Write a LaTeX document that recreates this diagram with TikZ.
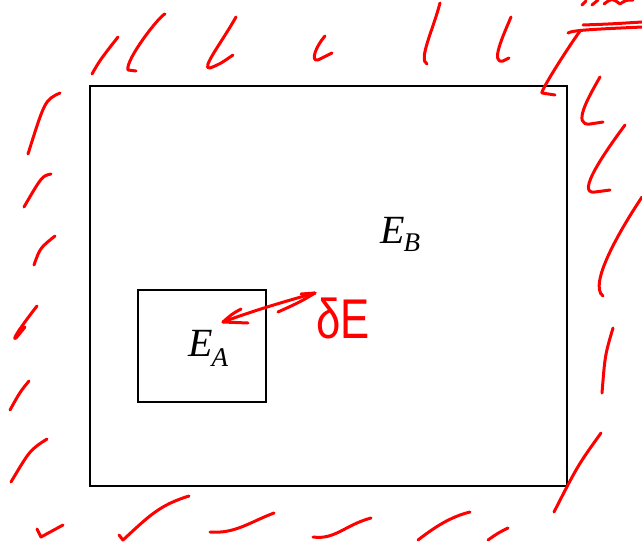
\documentclass[tikz,border=0pt]{standalone}
\usepackage{fontspec}
\setmainfont{Liberation Serif}
\newfontfamily\handfont{Liberation Sans}
\begin{document}
\begin{tikzpicture}[x=1pt,y=-1pt,
 ink/.style={red, line width=3pt, line cap=round, line join=round},
 bigbox/.style={draw=black, line width=2.8pt, inner sep=0pt},
 smallbox/.style={draw=black, line width=1.7pt, inner sep=0pt},
 elabel/.style={anchor=base west, inner sep=0pt}]
\useasboundingbox (0,0) rectangle (642,541);
\fill[white] (0,0) rectangle (642,541);
% boxes
\node[bigbox, minimum width=477pt, minimum height=400pt] (outer) at (328.5,286) {};
\node[smallbox, minimum width=128pt, minimum height=112pt] (inner) at (202,346) {};
% labels
\node[elabel] (EB) at (380,243) {\fontsize{40}{40}\selectfont\itshape E\kern-1pt\raisebox{-8pt}{\fontsize{27}{27}\selectfont B}};
\node[elabel] (EA) at (188,356) {\fontsize{40}{40}\selectfont\itshape E\kern-1pt\raisebox{-10pt}{\fontsize{27}{27}\selectfont A}};
\node[red, anchor=base west, inner sep=0pt] (dE) at (316,338) {\scalebox{0.78}[1]{\handfont\fontsize{56}{56}\selectfont δE}};
% hand-drawn arrow
\coordinate (la) at (223,322);
\coordinate (ra) at (315,293);
\draw[ink] (241,309) .. controls (232,314) .. (la) -- (248,323);
\draw[ink] (la) .. controls (255,310) and (290,300) .. (ra);
\draw[ink] (ra) -- (301,294);
\draw[ink] (ra) .. controls (300,302) .. (278,312);
% top strokes
\draw[ink] (92,74) .. controls (100,60) .. (118,37);
\draw[ink] (165,14) .. controls (160,15) and (125,60) .. (128,70) -- (136,71);
\draw[ink] (236,17) .. controls (222,42) and (200,70) .. (210,68) .. controls (220,64) .. (233,55);
\draw[ink] (325,36) .. controls (316,46) and (310,62) .. (318,60) -- (332,53);
\draw[ink] (440,3) .. controls (433,30) and (418,60) .. (427,64);
\draw[ink] (511,17) .. controls (503,36) and (490,64) .. (503,61) -- (509,58);
\draw[ink] (568,33) .. controls (572,30) and (600,29) .. (642,27);
\draw[ink] (583,25) .. controls (610,24) .. (642,22);
\draw[ink] (580,31) .. controls (565,52) and (540,92) .. (542,93) -- (555,95);
\draw[ink] (582,5) -- (586,1);
\draw[ink] (592,5) -- (598,0);
\draw[ink] (604,4) .. controls (612,-2) .. (620,4) .. controls (626,0) .. (633,0);
% right strokes
\draw[ink] (600,77) .. controls (588,98) and (572,126) .. (590,124) -- (603,122);
\draw[ink] (625,125) .. controls (605,152) and (575,195) .. (595,192) -- (610,190);
\draw[ink] (642,197) .. controls (620,230) and (588,285) .. (603,296);
\draw[ink] (613,328) .. controls (605,355) .. (602,393);
\draw[ink] (601,433) .. controls (578,465) .. (554,512);
% left strokes
\draw[ink] (60,93) .. controls (45,100) .. (28,154);
\draw[ink] (51,174) .. controls (42,176) .. (24,207);
\draw[ink] (55,236) .. controls (40,248) .. (34,265);
\draw[ink] (37,306) .. controls (26,320) and (10,342) .. (16,338) -- (25,327);
\draw[ink] (29,381) .. controls (20,392) .. (10,410);
\draw[ink] (47,439) .. controls (30,450) .. (11,482);
% bottom strokes
\draw[ink] (37,529) -- (41,537) -- (63,525);
\draw[ink] (119,535) -- (123,540) .. controls (150,515) and (160,505) .. (189,496);
\draw[ink] (210,532) .. controls (235,534) and (250,522) .. (274,513);
\draw[ink] (313,537) .. controls (335,540) and (345,525) .. (371,518);
\draw[ink] (418,540) .. controls (435,527) and (450,517) .. (470,512);
\draw[ink] (488,540) .. controls (498,533) .. (508,528);
\end{tikzpicture}
\end{document}
